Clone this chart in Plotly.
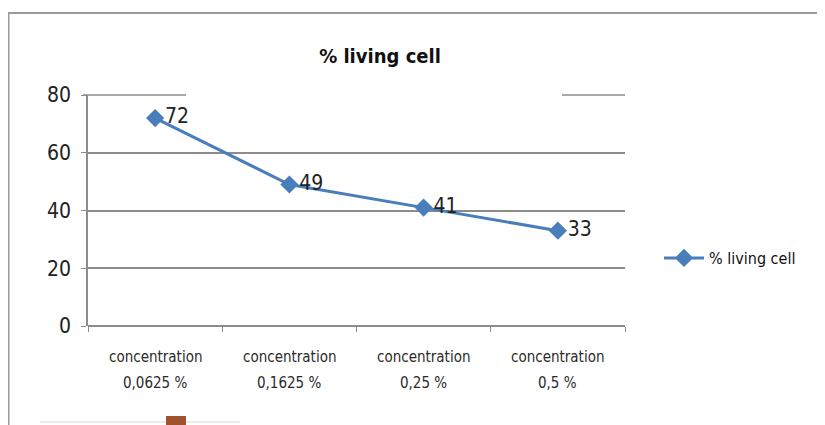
import plotly.graph_objects as go

cat_line1 = ["concentration", "concentration", "concentration", "concentration"]
cat_line2 = ["0,0625 %", "0,1625 %", "0,25 %", "0,5 %"]
categories = [a + " " + b for a, b in zip(cat_line1, cat_line2)]
values = [72, 49, 41, 33]
series_name = "% living cell"
title_text = "% living cell"
y_ticks = [0, 20, 40, 60, 80]

# page body has an 8px margin: work in reference coords, shift by OFF
OFF = 8
W, H = 825 - OFF, 425 - OFF
L, R, T, B = 88 - OFF, 825 - 625, 95 - OFF, 425 - 326
pw, ph = W - L - R, H - T - B

def px(x):
    return (x - OFF - L) / pw

def py(y):
    return (H - B - (y - OFF)) / ph

blue = "#4A7EBB"
grid = "#8C8C8C"
narrow = "DejaVu Sans Condensed, Liberation Sans, Arial"

fig = go.Figure()
fig.add_trace(go.Scatter(
    x=categories, y=values, name=series_name,
    mode="lines+markers+text",
    line=dict(color=blue, width=3),
    marker=dict(symbol="diamond", size=14, color=blue),
    text=[str(v) for v in values],
    textposition="middle right",
    textfont=dict(family=narrow, size=21, color="#222222"),
))

annotations = []
for c, a, b in zip(categories, cat_line1, cat_line2):
    annotations.append(dict(x=c, xref="x", y=py(357), yref="paper", text=a, showarrow=False,
                            xanchor="center", yanchor="middle",
                            font=dict(family=narrow, size=15, color="#2A2A2A")))
    annotations.append(dict(x=c, xref="x", y=py(383), yref="paper", text=b, showarrow=False,
                            xanchor="center", yanchor="middle",
                            font=dict(family=narrow, size=15, color="#2A2A2A")))

fig.update_layout(
    width=W, height=H,
    margin=dict(l=L, r=R, t=T, b=B),
    paper_bgcolor="white", plot_bgcolor="white",
    title=dict(text="<b>" + title_text + "</b>", x=(380 - OFF) / W, xanchor="center",
               y=1 - (56 - OFF) / H, yanchor="middle",
               font=dict(family=narrow, size=20, color="#111111")),
    showlegend=True,
    legend=dict(x=px(659), y=py(258), xanchor="left", yanchor="middle",
                font=dict(family=narrow, size=16, color="#111111"),
                bgcolor="rgba(0,0,0,0)", itemwidth=40),
    xaxis=dict(type="category", showgrid=False, showline=False, showticklabels=False,
               ticks="outside", tickson="boundaries", ticklen=5, tickcolor=grid,
               range=[-0.5, 3.5], fixedrange=True),
    yaxis=dict(range=[0, 80], tickvals=y_ticks, ticktext=[str(t) for t in y_ticks],
               showgrid=True, gridcolor=grid, gridwidth=1.5,
               showline=True, linecolor=grid, linewidth=1.5,
               ticks="outside", ticklen=5, tickcolor=grid, ticklabelstandoff=6,
               tickfont=dict(family=narrow, size=21, color="#222222"),
               zeroline=True, zerolinecolor=grid, zerolinewidth=1.5),
    annotations=annotations,
    shapes=[
        # outer frame
        dict(type="line", xref="paper", yref="paper", x0=px(8), x1=px(830), y0=py(13), y1=py(13),
             line=dict(color="#9A9A9A", width=2)),
        dict(type="line", xref="paper", yref="paper", x0=px(8.5), x1=px(8.5), y0=py(13), y1=py(430),
             line=dict(color="#9A9A9A", width=2)),
        # visible pieces of the top gridline
        dict(type="line", xref="paper", yref="paper", x0=px(83), x1=px(186), y0=py(95), y1=py(95),
             line=dict(color=grid, width=1.5)),
        dict(type="line", xref="paper", yref="paper", x0=px(562), x1=1, y0=py(95), y1=py(95),
             line=dict(color=grid, width=1.5)),
        # faint line near bottom
        dict(type="line", xref="paper", yref="paper", x0=px(40), x1=px(240), y0=py(422), y1=py(422),
             line=dict(color="#E4E4E4", width=1.5)),
        # page number tag
        dict(type="rect", xref="paper", yref="paper", x0=px(166), x1=px(186), y0=py(416), y1=py(430),
             line=dict(width=0), fillcolor="#A0522D", layer="above"),
    ],
)

fig.write_html("out.html")
